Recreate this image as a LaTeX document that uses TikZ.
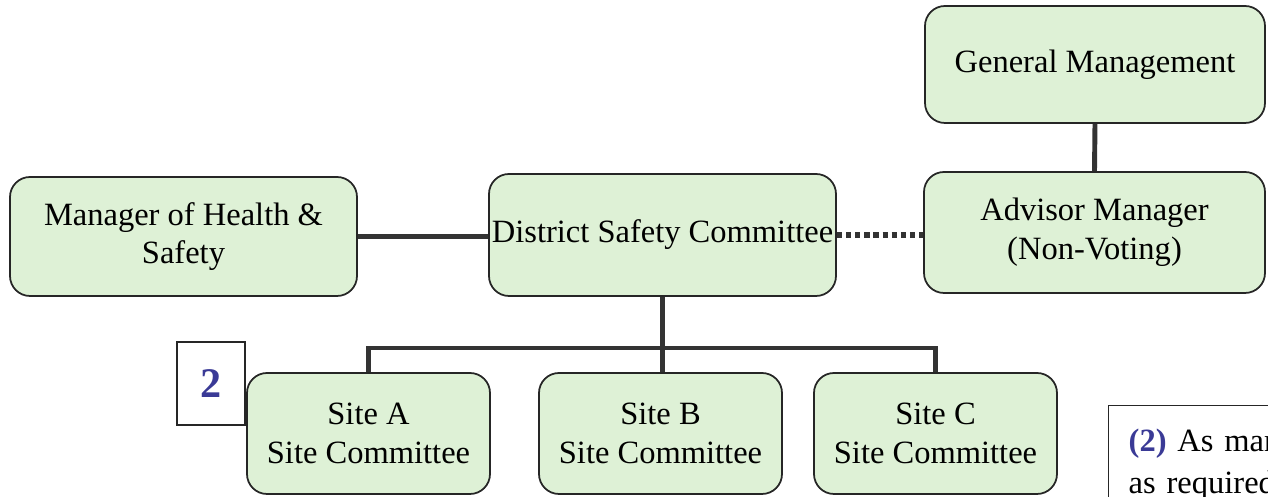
\documentclass[tikz,border=0pt]{standalone}
\usepackage{fontspec}
\setmainfont{Liberation Serif}
\definecolor{boxgreen}{RGB}{222,241,214}
\definecolor{numblue}{RGB}{58,58,150}
\tikzset{
    orgbox/.style={draw=black!85, line width=1pt, rounded corners=0.4cm, fill=boxgreen,
        align=center, inner sep=1pt, font=\fontsize{18.5}{22}\selectfont},
    link/.style={line width=2.8pt, draw=black!80},
    notebox/.style={draw=black!85, line width=0.8pt},
}
\begin{document}
\begin{tikzpicture}
    \useasboundingbox (0,0) rectangle (25.36,9.94);
    % boxes
    \node[orgbox, minimum width=6.94cm, minimum height=2.38cm] (mhs) at (3.67,5.21) {Manager of Health \&\\Safety};
    \node[orgbox, minimum width=6.94cm, minimum height=2.44cm] (dsc) at (13.25,5.24) {District Safety Committee};
    \node[orgbox, minimum width=6.82cm, minimum height=2.42cm] (adv) at (21.89,5.29) {Advisor Manager\\(Non-Voting)};
    \node[orgbox, minimum width=6.8cm, minimum height=2.34cm] (gen) at (21.9,8.65) {General Management};
    \node[orgbox, minimum width=4.86cm, minimum height=2.42cm] (sa) at (7.37,1.27) {Site A\\Site Committee};
    \node[orgbox, minimum width=4.86cm, minimum height=2.42cm] (sb) at (13.21,1.27) {Site B\\Site Committee};
    \node[orgbox, minimum width=4.86cm, minimum height=2.42cm] (sc) at (18.71,1.27) {Site C\\Site Committee};
    % number tag and note
    \node[notebox, minimum width=1.36cm, minimum height=1.66cm, inner sep=0pt,
        text=numblue, font=\bfseries\fontsize{24}{28}\selectfont] (tag) at (4.22,2.27) {2};
    \node[notebox, anchor=north west, align=left, inner xsep=0.4cm, inner ysep=13pt, text width=5cm,
        font=\fontsize{18.5}{24}\selectfont] (note) at (22.16,1.84)
        {\textcolor{numblue}{\bfseries(2)} As many\\as required};
    % connectors
    \draw[link] (mhs.east) -- (mhs.east -| dsc.west);
    \draw[line width=3pt, draw=black!80, dash pattern=on 3pt off 2.2pt] (dsc.east) -- (dsc.east -| adv.west);
    \draw[link] (gen.south) -- (adv.north);
    \coordinate (bar) at (13.25,2.98);
    \draw[link] (dsc.south) -- (bar);
    \draw[link] (sa.north) -- (sa.north |- bar) -- (sc.north |- bar) -- (sc.north);
    \draw[link] (bar) -- (bar |- sb.north);
\end{tikzpicture}
\end{document}
